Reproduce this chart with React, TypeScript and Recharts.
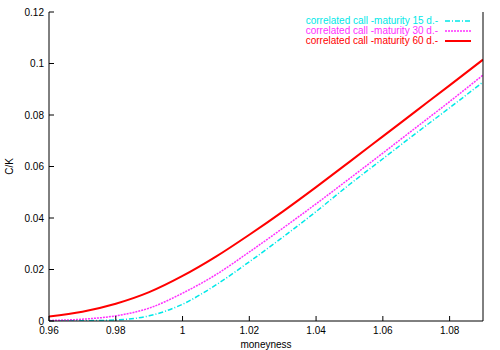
import { LineChart, Line, XAxis, YAxis } from "recharts";

const moneyness = [0.96, 0.97, 0.98, 0.99, 1.0, 1.01, 1.02, 1.03, 1.04, 1.05, 1.06, 1.07, 1.08, 1.09];
const call15 = [0.0, 0.0001, 0.0004, 0.002, 0.0065, 0.014, 0.023, 0.0325, 0.0425, 0.053, 0.063, 0.073, 0.0828, 0.0928];
const call30 = [0.0002, 0.0007, 0.002, 0.005, 0.0108, 0.018, 0.0268, 0.036, 0.0455, 0.0553, 0.0652, 0.0752, 0.0852, 0.0955];
const call60 = [0.0017, 0.0036, 0.0067, 0.0112, 0.0175, 0.025, 0.0335, 0.0425, 0.052, 0.0618, 0.0717, 0.0816, 0.0915, 0.1015];

const xTicks = [0.96, 0.98, 1.0, 1.02, 1.04, 1.06, 1.08];
const yTicks = [0, 0.02, 0.04, 0.06, 0.08, 0.1, 0.12];

const series = [
  { key: "c15", label: "correlated call -maturity 15 d.-", color: "#00e8e8", dash: "5 2 1 2", width: 1.5 },
  { key: "c30", label: "correlated call -maturity 30 d.-", color: "#ff30ff", dash: "2 1", width: 1.5 },
  { key: "c60", label: "correlated call -maturity 60 d.-", color: "#ff0000", dash: undefined, width: 2 },
];

const data = moneyness.map((m, i) => ({ m, c15: call15[i], c30: call30[i], c60: call60[i] }));

const fmt = (v: number) => String(+v.toFixed(2));
const font = "'Liberation Sans', Arial, sans-serif";
const tickStyle = { fontSize: 10, fill: "#000", fontFamily: font };

// gnuplot-style key, drawn over the top right of the plot
function LegendBox() {
  return (
    <div style={{ position: "absolute", top: 16, right: 29, fontFamily: font, fontSize: 10, lineHeight: "10px" }}>
      {series.map((s) => (
        <div key={s.key} style={{ display: "flex", alignItems: "center", justifyContent: "flex-end", height: 10 }}>
          <span style={{ color: s.color, whiteSpace: "nowrap" }}>{s.label}</span>
          <svg width={33} height={10} style={{ display: "block" }}>
            <line x1={7} x2={33} y1={5} y2={5} stroke={s.color} strokeWidth={s.width} strokeDasharray={s.dash} />
          </svg>
        </div>
      ))}
    </div>
  );
}

export default function App() {
  return (
    <div style={{ position: "absolute", left: 0, top: 0, width: 500, height: 350, background: "#fff" }}>
      <LineChart width={500} height={350} data={data} margin={{ top: 12, right: 0, bottom: 0, left: 0 }}>
        <XAxis
          dataKey="m"
          type="number"
          domain={[0.96, 1.09]}
          ticks={xTicks}
          interval={0}
          allowDataOverflow
          tickFormatter={fmt}
          tick={tickStyle}
          tickSize={-5}
          tickMargin={11}
          height={29}
          stroke="#000"
          label={{ value: "moneyness", position: "insideBottom", offset: 2, style: { fontSize: 10, fill: "#000", fontFamily: font } }}
        />
        <XAxis
          xAxisId="top"
          orientation="top"
          dataKey="m"
          type="number"
          domain={[0.96, 1.09]}
          ticks={xTicks}
          interval={0}
          allowDataOverflow
          tick={false}
          tickSize={-5}
          height={0}
          stroke="#000"
        />
        <YAxis
          type="number"
          domain={[0, 0.12]}
          ticks={yTicks}
          interval={0}
          allowDataOverflow
          tickFormatter={fmt}
          tick={tickStyle}
          tickSize={-5}
          tickMargin={10}
          width={49}
          stroke="#000"
          label={{
            content: ({ viewBox }: any) => (
              <text
                x={10}
                y={viewBox.y + viewBox.height / 2}
                transform={`rotate(-90 10 ${viewBox.y + viewBox.height / 2})`}
                textAnchor="middle"
                dominantBaseline="middle"
                fontSize={10}
                fontFamily={font}
                fill="#000"
              >
                C/K
              </text>
            ),
          }}
        />
        <YAxis
          yAxisId="right"
          orientation="right"
          type="number"
          domain={[0, 0.12]}
          ticks={yTicks}
          interval={0}
          allowDataOverflow
          tick={false}
          tickSize={-5}
          width={17}
          stroke="#000"
        />
        {series.map((s) => (
          <Line
            key={s.key}
            type="monotone"
            dataKey={s.key}
            stroke={s.color}
            strokeWidth={s.width}
            strokeDasharray={s.dash}
            dot={false}
            activeDot={false}
            isAnimationActive={false}
          />
        ))}
      </LineChart>
      <LegendBox />
    </div>
  );
}
